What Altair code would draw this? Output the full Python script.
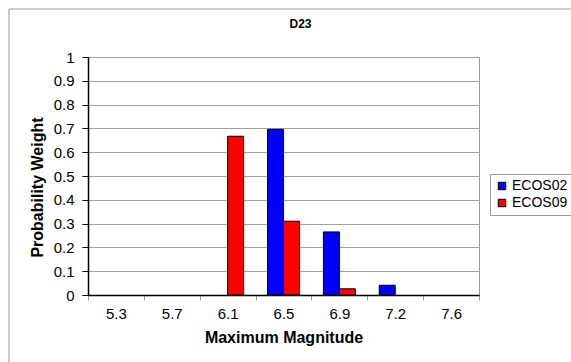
import altair as alt
import pandas as pd

magnitudes = ["5.3", "5.7", "6.1", "6.5", "6.9", "7.2", "7.6"]
series_names = ["ECOS02", "ECOS09"]
ecos02 = [0.0, 0.0, 0.0, 0.696, 0.265, 0.041, 0.0]
ecos09 = [0.0, 0.0, 0.667, 0.31, 0.026, 0.0, 0.0]
y_ticks = [0, 0.1, 0.2, 0.3, 0.4, 0.5, 0.6, 0.7, 0.8, 0.9, 1.0]

rows = []
for m, a, b in zip(magnitudes, ecos02, ecos09):
    rows.append({"mag": m, "series": series_names[0], "value": a})
    rows.append({"mag": m, "series": series_names[1], "value": b})
df = pd.DataFrame(rows)

FONT = "Liberation Sans"

bars = alt.Chart(df).mark_bar(stroke="black", strokeWidth=1).encode(
    x=alt.X(
        "mag:N",
        sort=magnitudes,
        scale=alt.Scale(domain=magnitudes, paddingInner=0, paddingOuter=0),
        axis=alt.Axis(
            title="Maximum Magnitude",
            labelAngle=0,
            labelFontSize=15,
            labelColor="black",
            labelFont=FONT,
            labelPadding=6,
            tickBand="extent",
            tickSize=5,
            tickColor="#999999",
            domainColor="black",
            domainWidth=1.5,
            titleFont=FONT,
            titleFontSize=16,
            titleFontWeight="bold",
            titleColor="black",
            titlePadding=8,
            grid=False,
        ),
    ),
    xOffset=alt.XOffset(
        "series:N",
        sort=series_names,
        scale=alt.Scale(domain=series_names, paddingOuter=0.75, paddingInner=0),
    ),
    y=alt.Y(
        "value:Q",
        scale=alt.Scale(domain=[0, 1], nice=False),
        axis=alt.Axis(
            title="Probability Weight",
            values=y_ticks,
            format="~g",
            labelFontSize=15,
            labelColor="black",
            labelFont=FONT,
            labelPadding=8,
            tickSize=6,
            tickColor="black",
            domainColor="black",
            domainWidth=1.5,
            gridColor="#a0a0a0",
            gridWidth=1,
            titleFont=FONT,
            titleFontSize=16,
            titleFontWeight="bold",
            titleColor="black",
            titlePadding=8,
            titleY=130,
        ),
    ),
    color=alt.Color(
        "series:N",
        sort=series_names,
        scale=alt.Scale(domain=series_names, range=["#0000ff", "#ff0000"]),
        legend=alt.Legend(
            title=None,
            orient="none",
            legendX=402,
            legendY=117,
            labelFont=FONT,
            labelFontSize=14,
            labelColor="black",
            symbolType="square",
            symbolSize=55,
            symbolStrokeColor="black",
            symbolStrokeWidth=1,
            strokeColor="#999999",
            fillColor="white",
            padding=5,
            rowPadding=3,
            labelOffset=3,
        ),
    ),
).transform_filter(alt.datum.value > 0)

border_df = pd.DataFrame({"k": [0]})
border = alt.Chart(border_df).mark_rect(
    fill=None, stroke="#999999", strokeWidth=1
).encode(
    x=alt.value(-79),
    y=alt.value(-48),
    x2=alt.value(600),
    y2=alt.value(400),
)

chart = alt.layer(border, bars).properties(
    width=391,
    height=238,
    autosize=alt.AutoSizeParams(type="none"),
    padding={"left": 88, "top": 57, "right": 92, "bottom": 67},
    background="white",
    title=alt.TitleParams(
        text="D23",
        font=FONT,
        fontSize=12,
        fontWeight="bold",
        color="black",
        anchor="middle",
        dx=17,
        dy=21,
        offset=-1,
    ),
).configure_view(stroke="#999999", strokeWidth=1)

chart.save("out.html", embed_options={"renderer": "svg", "actions": False})
